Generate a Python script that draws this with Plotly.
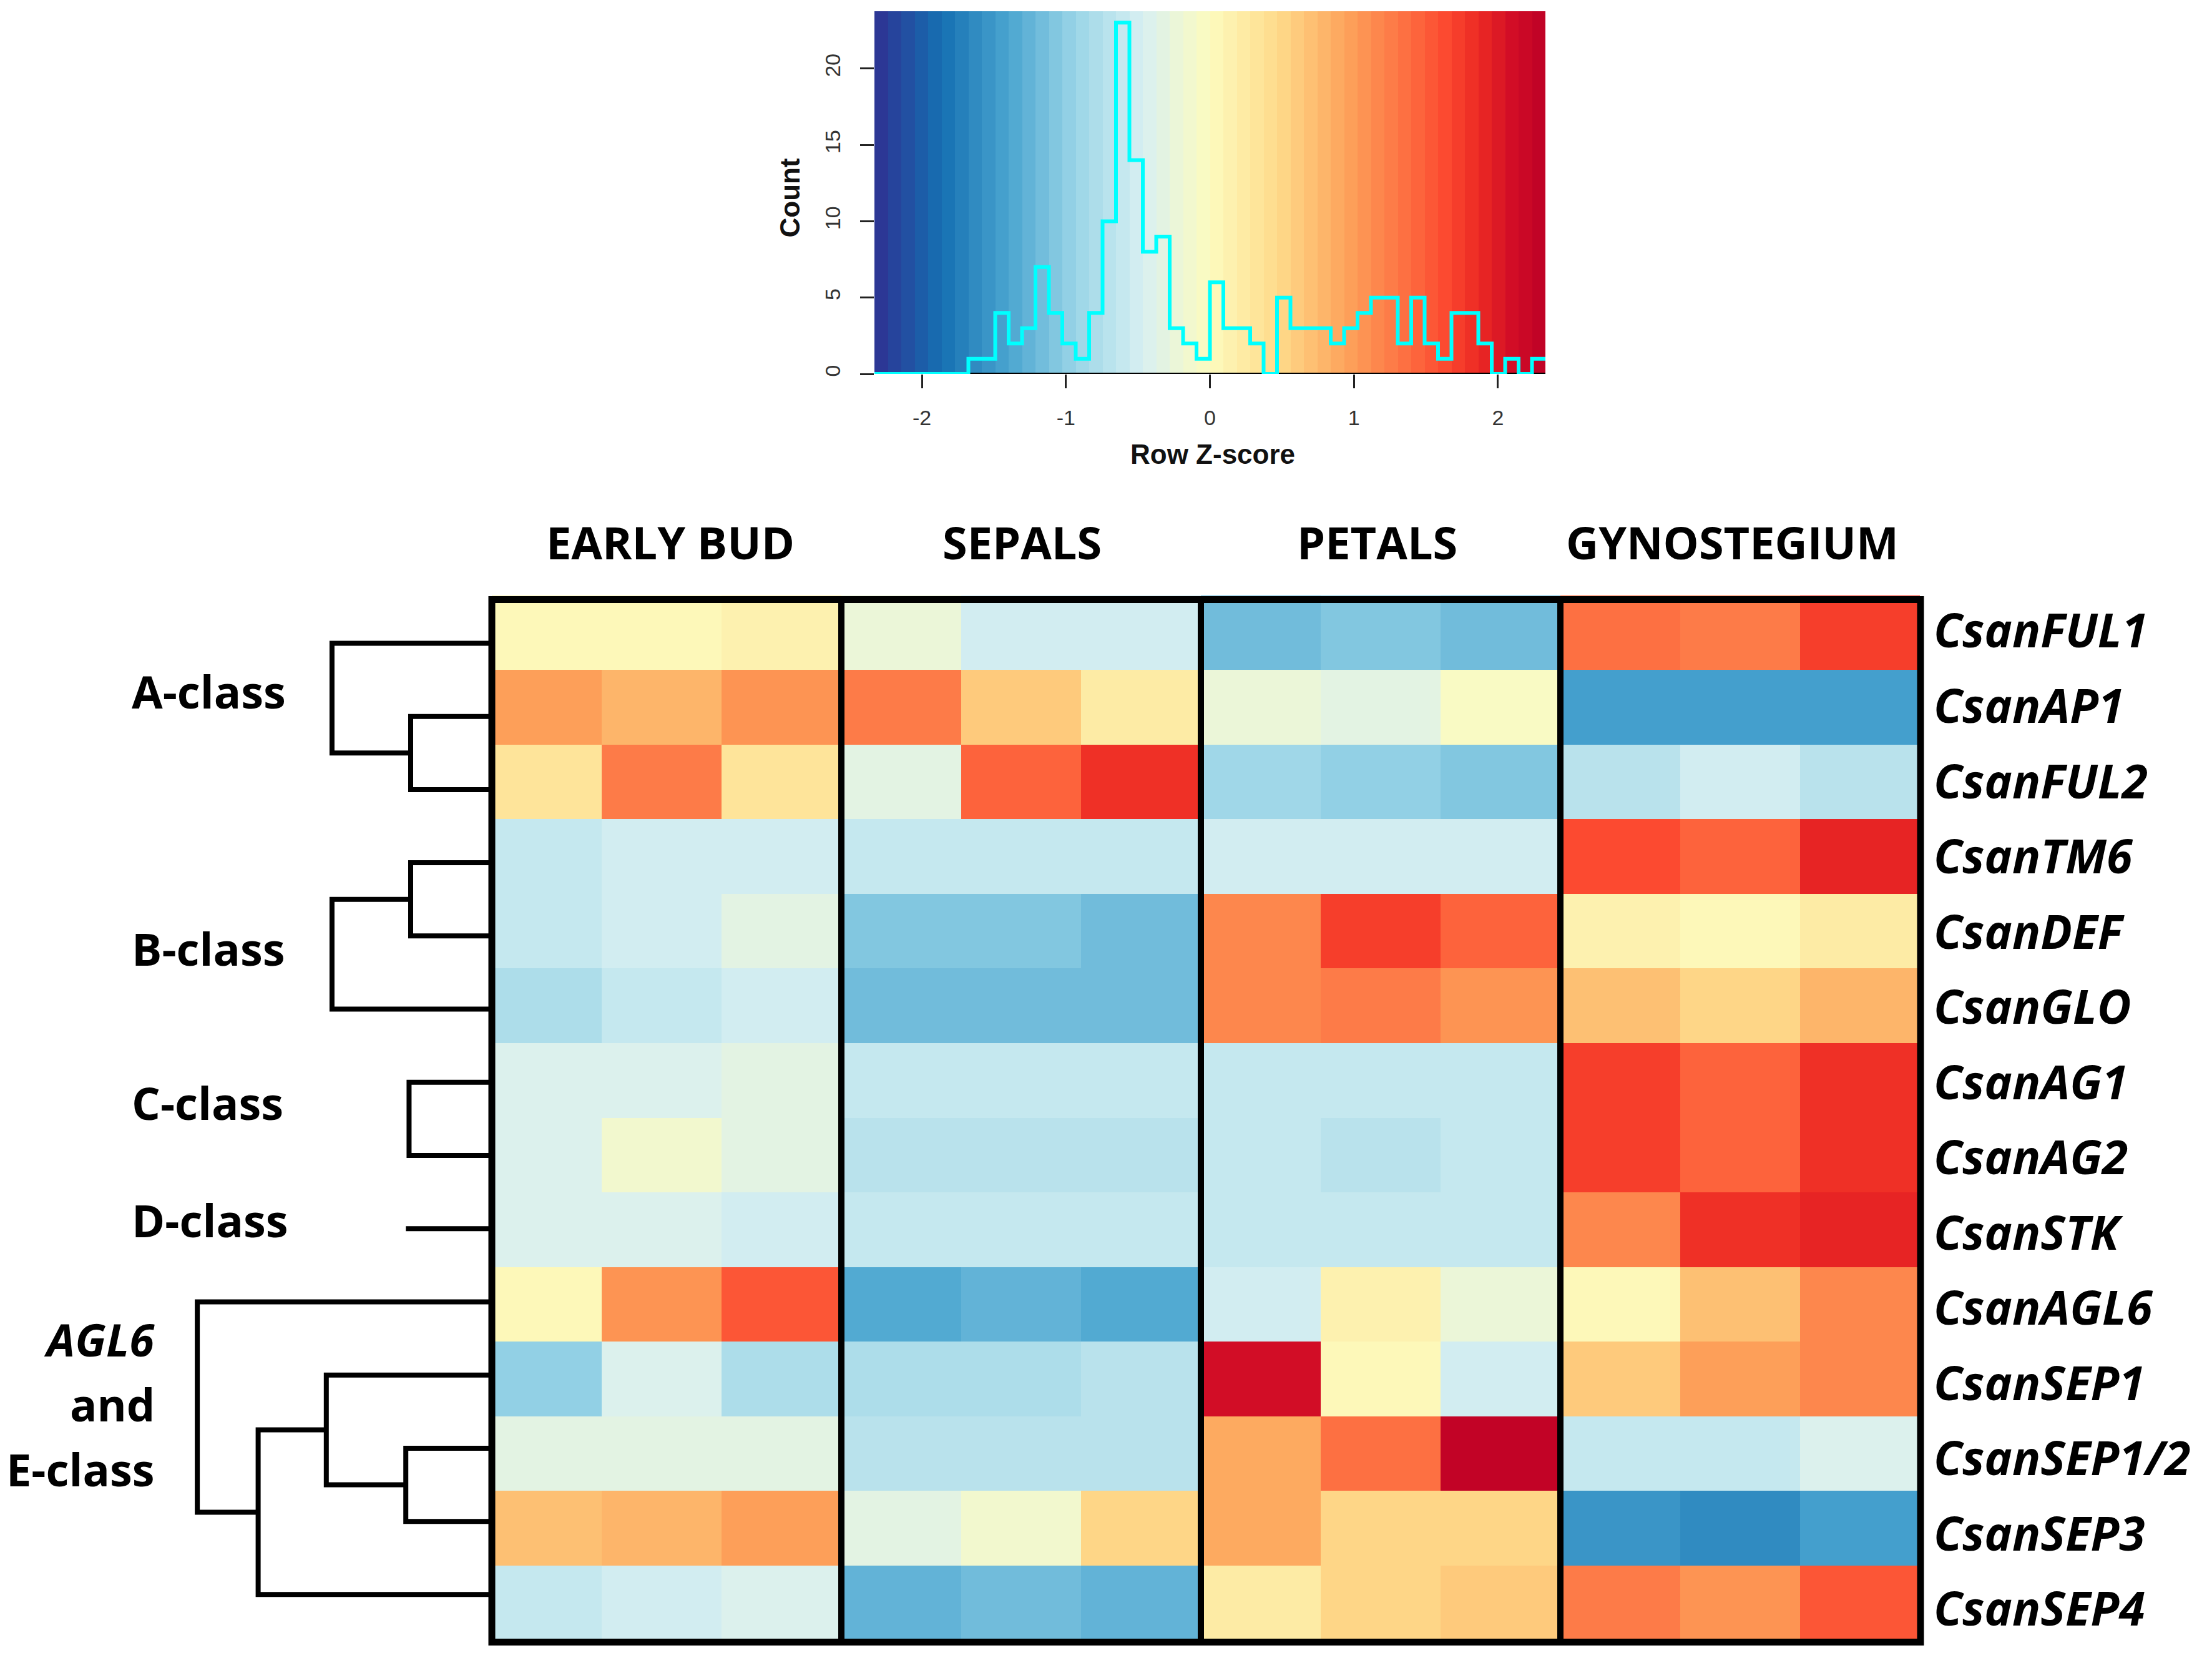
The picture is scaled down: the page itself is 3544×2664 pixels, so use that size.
import numpy as np
import plotly.graph_objects as go

# ---------------- data ----------------
genes = ["CsanFUL1", "CsanAP1", "CsanFUL2", "CsanTM6", "CsanDEF", "CsanGLO",
         "CsanAG1", "CsanAG2", "CsanSTK", "CsanAGL6", "CsanSEP1", "CsanSEP1/2",
         "CsanSEP3", "CsanSEP4"]
tissues = ["EARLY BUD", "SEPALS", "PETALS", "GYNOSTEGIUM"]

# row z-scores, 3 replicates per tissue, one row per gene (order as genes)
early_bud = [
    [0.05, 0.05, 0.14], [0.98, 0.79, 1.07], [0.33, 1.26, 0.33],
    [-0.61, -0.51, -0.51], [-0.61, -0.51, -0.33], [-0.79, -0.61, -0.51],
    [-0.42, -0.42, -0.33], [-0.42, -0.14, -0.33], [-0.42, -0.42, -0.51],
    [0.05, 1.07, 1.54], [-0.98, -0.42, -0.79], [-0.33, -0.33, -0.33],
    [0.70, 0.79, 0.98], [-0.61, -0.51, -0.42],
]
sepals = [
    [-0.23, -0.51, -0.51], [1.26, 0.61, 0.23], [-0.33, 1.45, 1.82],
    [-0.61, -0.61, -0.61], [-1.07, -1.07, -1.17], [-1.17, -1.17, -1.17],
    [-0.61, -0.61, -0.61], [-0.70, -0.70, -0.70], [-0.61, -0.61, -0.61],
    [-1.35, -1.26, -1.35], [-0.79, -0.79, -0.70], [-0.70, -0.70, -0.70],
    [-0.33, -0.14, 0.51], [-1.26, -1.17, -1.26],
]
petals = [
    [-1.17, -1.07, -1.17], [-0.23, -0.33, -0.05], [-0.89, -0.98, -1.07],
    [-0.51, -0.51, -0.51], [1.17, 1.72, 1.45], [1.17, 1.26, 1.07],
    [-0.61, -0.61, -0.61], [-0.61, -0.70, -0.61], [-0.61, -0.61, -0.61],
    [-0.51, 0.14, -0.23], [2.10, 0.05, -0.51], [0.89, 1.35, 2.28],
    [0.89, 0.51, 0.51], [0.23, 0.51, 0.61],
]
gynostegium = [
    [1.35, 1.26, 1.72], [-1.45, -1.45, -1.45], [-0.70, -0.51, -0.70],
    [1.63, 1.45, 1.91], [0.14, 0.05, 0.23], [0.70, 0.51, 0.79],
    [1.72, 1.45, 1.82], [1.72, 1.45, 1.82], [1.17, 1.82, 1.91],
    [0.05, 0.70, 1.17], [0.61, 0.98, 1.17], [-0.61, -0.61, -0.42],
    [-1.54, -1.63, -1.45], [1.26, 1.07, 1.54],
]

# colour key histogram (counts per bin, read from the key)
key_min, key_max = -2.33, 2.33
hist_counts = [0, 0, 0, 0, 0, 0, 0, 1, 1, 4, 2, 3, 7, 4, 2, 1, 4, 10, 23, 14,
               8, 9, 3, 2, 1, 6, 3, 3, 2, 0, 5, 3, 3, 3, 2, 3, 4, 5, 5, 2,
               5, 2, 1, 4, 4, 2, 0, 1, 0, 1]
hist_ymax = 23.75
key_xticks = [-2, -1, 0, 1, 2]
key_yticks = [0, 5, 10, 15, 20]

# row dendrogram: (left, right, height); ints = leaf rows, "nK" = K-th merge
dendro_merges = [
    (1, 2, 1.00), (0, "n0", 1.97),
    (3, 4, 1.00), ("n2", 5, 1.97),
    (6, 7, 1.02),
    (11, 12, 1.06), (10, "n5", 2.04), ("n6", 13, 2.88), (9, "n7", 3.63),
]
dendro_single = [(8, 1.06)]

class_labels = ["A-class", "B-class", "C-class", "D-class"]
agl6_lines = ["<i>AGL6</i>", "and", "E-class"]

colorscale = [
    [0.0, "#2e3192"], [0.1, "#1570b2"], [0.2, "#4aa5d0"], [0.3, "#9ad5e7"],
    [0.4, "#d8f0f2"], [0.5, "#fdfbbe"], [0.6, "#fedb8b"], [0.7, "#fda55c"],
    [0.8, "#fd6a3f"], [0.85, "#fc4a30"], [0.9, "#ec2a24"], [0.95, "#d20d26"],
    [1.0, "#bd0026"],
]

# ---------------- geometry (pixels) ----------------
W, H = 3544, 2664
def px(x):
    return x / W
def py(y):
    return 1 - y / H

col_w = 192.0
hm_left, hm_right, hm_top, hm_bot = 788, 3076, 955, 2632   # cell area
hm_x0 = 772                                                # nominal left of column 0
border = dict(x0=788, x1=3077, y0=962, y1=2634.5)
key_left, key_right, key_top, key_bot = 1401, 2476, 18, 600
dendro_unit = 130.0                  # px per dendrogram height unit
dendro_y0, dendro_step = 1032, 117.4  # leaf line positions
header_x = [1074, 1637, 2206, 2775]
header_y = 869
class_label_y = [1109, 1521, 1769, 1957]
agl6_y = [2148, 2252, 2357]
row_label_x = 3096
row_label_y0, row_label_step = 1010, 120.7

z = [eb + se + pe + gy for eb, se, pe, gy in zip(early_bud, sepals, petals, gynostegium)]
ncol = len(z[0])
nrow = len(genes)

fig = go.Figure()

# key colour bands
edges = np.linspace(key_min, key_max, len(hist_counts) + 1)
centers = (edges[:-1] + edges[1:]) / 2
fig.add_trace(go.Heatmap(
    z=[centers.tolist()], x=edges.tolist(), y=[0, hist_ymax],
    colorscale=colorscale, zmin=key_min, zmax=key_max, showscale=False,
    hoverinfo="skip", xaxis="x", yaxis="y"))
fig.add_trace(go.Scatter(x=[key_min, key_max], y=[0, 0], mode="lines",
                         line=dict(color="black", width=4), cliponaxis=False,
                         hoverinfo="skip", xaxis="x", yaxis="y"))
fig.add_trace(go.Scatter(
    x=edges.tolist(), y=hist_counts + [hist_counts[-1]], mode="lines",
    line=dict(color="#00ffff", width=6, shape="hv"), cliponaxis=False,
    hoverinfo="skip", xaxis="x", yaxis="y"))

# main heatmap
fig.add_trace(go.Heatmap(
    z=z, x=list(range(ncol)), y=list(range(nrow)),
    colorscale=colorscale, zmin=key_min, zmax=key_max, showscale=False,
    xaxis="x2", yaxis="y2"))

# dendrogram
node = {}
def pos(k):
    if isinstance(k, str):
        return node[k]
    return (float(k), 0.0)
dx, dy = [], []
for i, (a, b, h) in enumerate(dendro_merges):
    ya, ha = pos(a)
    yb, hb = pos(b)
    dx += [ha, h, h, hb, None]
    dy += [ya, ya, yb, yb, None]
    node["n%d" % i] = ((ya + yb) / 2, h)
for leaf, h in dendro_single:
    dx += [0, h, None]
    dy += [leaf, leaf, None]
fig.add_trace(go.Scatter(x=dx, y=dy, mode="lines",
                         line=dict(color="black", width=8),
                         hoverinfo="skip", xaxis="x3", yaxis="y3"))

# borders
shapes = [dict(type="rect", xref="paper", yref="paper",
               x0=px(border["x0"]), x1=px(border["x1"]),
               y0=py(border["y1"]), y1=py(border["y0"]),
               line=dict(color="black", width=11))]
for g in range(1, len(tissues)):
    xv = g * 3 - 0.5
    shapes.append(dict(type="line", xref="x2", yref="paper", x0=xv, x1=xv,
                       y0=py(border["y1"]), y1=py(border["y0"]),
                       line=dict(color="black", width=10)))

ann = []
hdr_font = dict(family="Open Sans", size=72, color="black")
row_font = dict(family="Open Sans", size=75, color="black")
for t, hx in zip(tissues, header_x):
    ann.append(dict(text="<b>%s</b>" % t, x=px(hx), xref="paper", y=py(header_y),
                    yref="paper", showarrow=False, font=hdr_font,
                    xanchor="center", yanchor="middle"))
for i, gname in enumerate(genes):
    ann.append(dict(text="<b><i>%s</i></b>" % gname, x=px(row_label_x), xref="paper",
                    y=py(row_label_y0 + i * row_label_step), yref="paper",
                    showarrow=False, font=row_font,
                    xanchor="left", yanchor="middle"))
for t, yy in zip(class_labels, class_label_y):
    ann.append(dict(text="<b>%s</b>" % t, x=px(209), xref="paper", y=py(yy),
                    yref="paper", showarrow=False, font=hdr_font,
                    xanchor="left", yanchor="middle"))
for t, yy in zip(agl6_lines, agl6_y):
    ann.append(dict(text="<b>%s</b>" % t, x=px(250), xref="paper", y=py(yy),
                    yref="paper", showarrow=False, font=hdr_font,
                    xanchor="right", yanchor="middle"))
lab_font = dict(family="Liberation Sans", size=44, color="#111")
ann.append(dict(text="<b>Count</b>", x=px(1266), y=py(318), xref="paper",
                yref="paper", textangle=-90, showarrow=False, font=lab_font,
                xanchor="center", yanchor="middle"))
ann.append(dict(text="<b>Row Z-score</b>", x=px(1943), y=py(729), xref="paper",
                yref="paper", showarrow=False, font=lab_font,
                xanchor="center", yanchor="middle"))

tick_font = dict(family="Liberation Sans", size=34, color="#333")
x2_lo = -0.5 + (hm_left - hm_x0) / col_w
fig.update_layout(
    width=W, height=H, autosize=False,
    margin=dict(l=0, r=0, t=0, b=0),
    paper_bgcolor="white", plot_bgcolor="white",
    showlegend=False, shapes=shapes, annotations=ann,
    xaxis=dict(domain=[px(key_left), px(key_right)], range=[key_min, key_max],
               tickvals=key_xticks, ticktext=[str(v) for v in key_xticks],
               ticks="outside", ticklen=22, tickwidth=3, tickcolor="#222",
               tickfont=tick_font, ticklabelstandoff=18,
               showgrid=False, zeroline=False, showline=False, fixedrange=True),
    yaxis=dict(domain=[py(key_bot), py(key_top)], range=[0, hist_ymax],
               tickvals=key_yticks, ticktext=[str(v) for v in key_yticks],
               ticks="outside", ticklen=22, tickwidth=3, tickcolor="#222",
               tickangle=-90, tickfont=tick_font, ticklabelstandoff=18,
               showgrid=False, zeroline=False, showline=False, fixedrange=True),
    xaxis2=dict(domain=[px(hm_left), px(hm_right)],
                range=[x2_lo, x2_lo + (hm_right - hm_left) / col_w],
                visible=False, fixedrange=True),
    yaxis2=dict(domain=[py(hm_bot), py(hm_top)], range=[nrow - 0.5, -0.5],
                visible=False, fixedrange=True),
    xaxis3=dict(domain=[0, px(border["x0"])], range=[border["x0"] / dendro_unit, 0],
                visible=False, fixedrange=True),
    yaxis3=dict(domain=[py(dendro_y0 + (nrow - 0.5) * dendro_step),
                        py(dendro_y0 - 0.5 * dendro_step)],
                range=[nrow - 0.5, -0.5], visible=False, fixedrange=True),
)

fig.write_html("out.html", config={"displayModeBar": False},
               post_script="document.body.style.margin='0px';")
